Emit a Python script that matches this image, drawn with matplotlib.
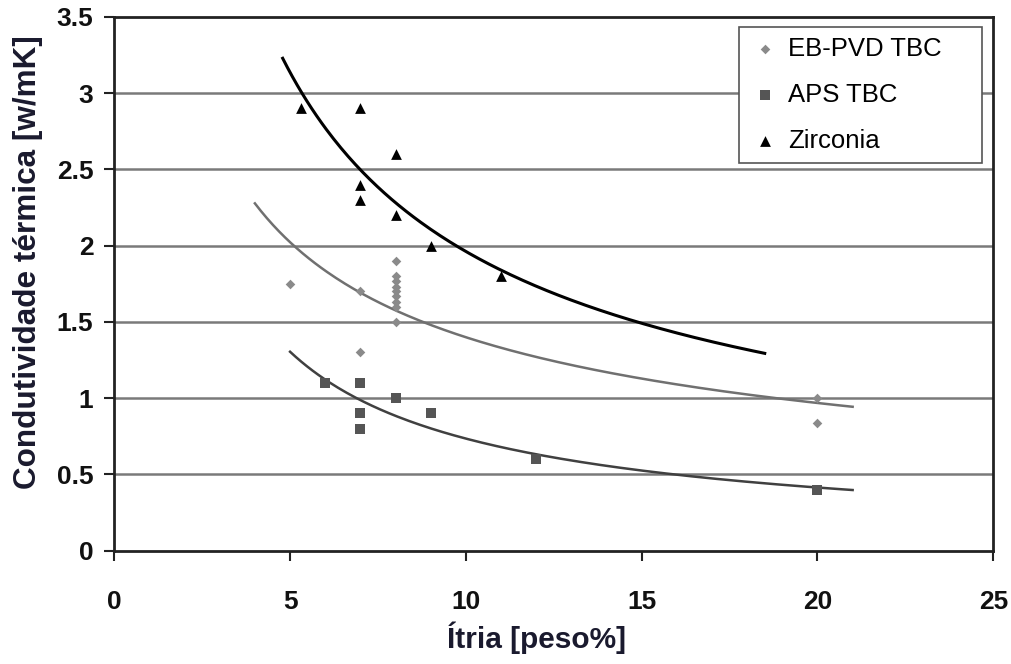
import numpy as np
import matplotlib
matplotlib.use("Agg")
import matplotlib.pyplot as plt

# ---- data ----
ebpvd_x = [5, 7, 7, 8, 8, 8, 8, 8, 8, 8, 8, 8, 20, 20]
ebpvd_y = [1.75, 1.70, 1.30, 1.90, 1.80, 1.77, 1.73, 1.70, 1.67, 1.63, 1.60, 1.50, 1.00, 0.84]

aps_x = [6, 7, 7, 7, 8, 9, 12, 20]
aps_y = [1.10, 1.10, 0.90, 0.80, 1.00, 0.90, 0.60, 0.40]

zr_x = [5.3, 7, 8, 7, 7, 8, 9, 11]
zr_y = [2.90, 2.90, 2.60, 2.40, 2.30, 2.20, 2.00, 1.80]

# power-law trend lines y = A * x**B over [x_start, x_end]
zr_trend = dict(A=9.32, B=-0.6766, x_start=4.79, x_end=18.5)
ebpvd_trend = dict(A=4.757, B=-0.5312, x_start=4.0, x_end=21.0)
aps_trend = dict(A=4.942, B=-0.8274, x_start=5.0, x_end=21.0)

labels = ["EB-PVD TBC", "APS TBC", "Zirconia"]
x_ticks = [0, 5, 10, 15, 20, 25]
y_ticks = [0, 0.5, 1, 1.5, 2, 2.5, 3, 3.5]
x_label = "Ítria [peso%]"
y_label = "Condutividade térmica [w/mK]"

plt.rcParams['font.family'] = ['Liberation Sans', 'DejaVu Sans']

fig = plt.figure(figsize=(10.12, 6.64), dpi=100)
ax = fig.add_axes([0.1129, 0.1706, 0.9815 - 0.1129, 0.9744 - 0.1706])

ax.set_xlim(0, 25)
ax.set_ylim(0, 3.5)
ax.set_xticks(x_ticks)
ax.set_yticks(y_ticks)
ax.set_yticklabels([f"{v:g}" for v in y_ticks])

for y in y_ticks[1:-1]:
    ax.axhline(y, color='#7a7a7a', lw=1.8, zorder=1)

def trend(p, color, lw):
    xs = np.linspace(p['x_start'], p['x_end'], 200)
    ax.plot(xs, p['A'] * xs ** p['B'], color=color, lw=lw, zorder=3)

trend(zr_trend, '#000000', 2.2)
trend(ebpvd_trend, '#707070', 1.8)
trend(aps_trend, '#404040', 1.8)

ax.scatter(ebpvd_x, ebpvd_y, marker='D', s=24, color='#8a8a8a', lw=0, zorder=4, label=labels[0])
ax.scatter(aps_x, aps_y, marker='s', s=50, color='#555555', lw=0, zorder=4, label=labels[1])
ax.scatter(zr_x, zr_y, marker='^', s=60, color='#000000', lw=0, zorder=4, label=labels[2])

for s in ax.spines.values():
    s.set_linewidth(2)
    s.set_color('#222222')

ax.tick_params(axis='both', direction='out', length=7, width=1.5, colors='#222222',
               labelsize=19, labelcolor='#111111')
ax.tick_params(axis='x', pad=21)
ax.tick_params(axis='y', pad=8)
for t in ax.get_xticklabels() + ax.get_yticklabels():
    t.set_fontweight('bold')

ax.set_xlabel(x_label, fontsize=21.5, fontweight='bold', color='#1a1a2e')
ax.set_ylabel(y_label, fontsize=22.7, fontweight='bold', color='#1a1a2e')
ax.xaxis.set_label_coords(0.48, -0.133)
ax.yaxis.set_label_coords(-0.081, 0.541)

leg = ax.legend(loc='upper left', bbox_to_anchor=(0.7107, 0.8818, 0.276, 0.1),
                mode='expand', borderaxespad=0, fontsize=18.5, frameon=True, fancybox=False,
                edgecolor='#555555', framealpha=1, labelspacing=0.85,
                handletextpad=0.3, borderpad=0.4, handlelength=1.2, scatterpoints=1)
leg.get_frame().set_linewidth(1.2)
leg.set_zorder(6)

fig.savefig("out.png", dpi=100, facecolor='white')
